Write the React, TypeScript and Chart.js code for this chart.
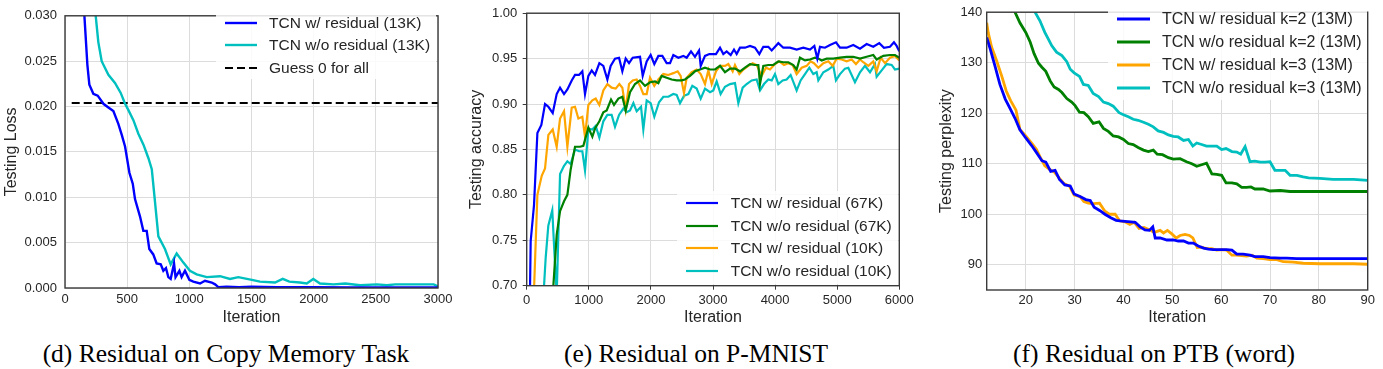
import React, { useEffect, useRef } from "react";
import { Chart, registerables } from "chart.js";

Chart.register(...registerables);

// ---------- Panel (d): Copy Memory ----------
const copyXTicks = [0, 500, 1000, 1500, 2000, 2500, 3000];
const copyYTicks = [0, 0.005, 0.01, 0.015, 0.02, 0.025, 0.03];
const copyResidual: [number, number][] = [
  [140, 0.036], [156, 0.03], [180, 0.0246], [196, 0.0224], [228, 0.0214], [263, 0.0212], [309, 0.0203],
  [349, 0.0199], [389, 0.0195], [429, 0.0181], [456, 0.0169], [483, 0.0156], [518, 0.0127], [545, 0.0115],
  [563, 0.0098], [603, 0.0079], [630, 0.0063], [657, 0.0063], [678, 0.0043], [710, 0.0037], [737, 0.0027],
  [770, 0.0026], [791, 0.0019], [812, 0.0022], [831, 0.0012], [850, 0.001], [877, 0.0027], [889, 0.0012],
  [920, 0.0019], [938, 0.0012], [965, 0.0019], [1000, 0.0009], [1032, 0.0007], [1086, 0.0005], [1126, 0.0008],
  [1180, 0.0006], [1207, 0.0004], [1233, 0.0001], [1300, 0.00015], [1400, 0.0001], [1500, 0.00015],
  [1700, 0.0001], [2000, 0.0001], [2300, 0.00005], [2600, 0.00005], [3000, 0.00005],
];
const copyNoResidual: [number, number][] = [
  [225, 0.034], [247, 0.03], [268, 0.0271], [295, 0.025], [349, 0.0235], [402, 0.0226], [448, 0.0215],
  [483, 0.0203], [510, 0.0196], [550, 0.0185], [590, 0.017], [631, 0.0158], [671, 0.0143], [698, 0.0131],
  [716, 0.0106], [751, 0.0057], [804, 0.0043], [850, 0.0026], [898, 0.0038], [952, 0.0028], [1005, 0.0019],
  [1059, 0.0015], [1140, 0.0012], [1247, 0.0013], [1327, 0.001], [1394, 0.0012], [1503, 0.0009],
  [1568, 0.0007], [1689, 0.0006], [1751, 0.001], [1804, 0.0007], [1889, 0.0006], [1944, 0.0005],
  [1997, 0.001], [2051, 0.0005], [2160, 0.0004], [2254, 0.0005], [2374, 0.0003], [2509, 0.0004],
  [2589, 0.0003], [2656, 0.0004], [2777, 0.0004], [2884, 0.0004], [2965, 0.0004], [3000, 0.0002],
];
const copyGuess: [number, number][] = [[54, 0.0204], [3000, 0.0204]];

// ---------- Panel (e): P-MNIST ----------
const mnistXTicks = [0, 1000, 2000, 3000, 4000, 5000, 6000];
const mnistYTicks = [0.7, 0.75, 0.8, 0.85, 0.9, 0.95, 1.0];
const mnistRes67: [number, number][] = [
  [52, 0.69], [64, 0.749], [118, 0.789], [172, 0.868], [236, 0.877], [295, 0.9], [349, 0.897], [419, 0.89],
  [483, 0.911], [537, 0.918], [601, 0.911], [655, 0.916], [725, 0.926], [778, 0.932], [843, 0.932],
  [896, 0.936], [939, 0.911], [993, 0.931], [1047, 0.937], [1100, 0.932], [1170, 0.945], [1234, 0.942],
  [1299, 0.927], [1352, 0.942], [1422, 0.95], [1487, 0.951], [1540, 0.936], [1594, 0.95], [1648, 0.945],
  [1707, 0.951], [1825, 0.952], [1868, 0.931], [1932, 0.947], [1996, 0.954], [2055, 0.944], [2120, 0.953],
  [2184, 0.953], [2254, 0.945], [2308, 0.945], [2361, 0.954], [2442, 0.951], [2522, 0.953], [2576, 0.951],
  [2646, 0.958], [2710, 0.952], [2775, 0.959], [2802, 0.942], [2871, 0.953], [2941, 0.955], [3048, 0.955],
  [3113, 0.962], [3166, 0.955], [3220, 0.958], [3285, 0.954], [3338, 0.96], [3381, 0.955], [3435, 0.962],
  [3515, 0.962], [3596, 0.964], [3676, 0.962], [3746, 0.955], [3810, 0.963], [3891, 0.963], [3945, 0.959],
  [4052, 0.967], [4132, 0.962], [4240, 0.962], [4347, 0.96], [4454, 0.962], [4562, 0.96], [4632, 0.964],
  [4680, 0.95], [4723, 0.963], [4803, 0.962], [4884, 0.965], [4980, 0.968], [5045, 0.962], [5152, 0.962],
  [5259, 0.965], [5367, 0.961], [5474, 0.966], [5581, 0.963], [5678, 0.967], [5753, 0.962], [5850, 0.963],
  [5914, 0.968], [5957, 0.964], [6000, 0.958],
];
const mnistNoRes67: [number, number][] = [
  [410, 0.68], [483, 0.756], [537, 0.782], [601, 0.793], [655, 0.8], [708, 0.828], [778, 0.853], [859, 0.853],
  [912, 0.854], [993, 0.874], [1057, 0.864], [1100, 0.873], [1170, 0.881], [1234, 0.891], [1288, 0.893],
  [1358, 0.905], [1406, 0.899], [1476, 0.906], [1540, 0.908], [1594, 0.893], [1664, 0.913], [1744, 0.922],
  [1825, 0.926], [1905, 0.92], [1986, 0.924], [2066, 0.925], [2120, 0.923], [2173, 0.931], [2254, 0.929],
  [2334, 0.927], [2415, 0.926], [2496, 0.926], [2549, 0.927], [2630, 0.931], [2710, 0.936], [2791, 0.938],
  [2871, 0.94], [2952, 0.938], [3032, 0.938], [3113, 0.942], [3193, 0.935], [3274, 0.939], [3354, 0.939],
  [3435, 0.936], [3515, 0.94], [3596, 0.944], [3676, 0.943], [3730, 0.943], [3757, 0.922], [3810, 0.942],
  [3891, 0.943], [3971, 0.943], [4052, 0.947], [4132, 0.946], [4213, 0.946], [4293, 0.943], [4347, 0.938],
  [4401, 0.951], [4481, 0.948], [4562, 0.949], [4642, 0.951], [4696, 0.95], [4750, 0.948], [4830, 0.95],
  [4937, 0.95], [5045, 0.951], [5152, 0.952], [5259, 0.952], [5367, 0.95], [5474, 0.952], [5581, 0.954],
  [5635, 0.949], [5743, 0.953], [5850, 0.954], [5930, 0.954], [6000, 0.951],
];
const mnistRes10: [number, number][] = [
  [115, 0.69], [172, 0.8], [242, 0.821], [295, 0.829], [349, 0.866], [419, 0.872], [483, 0.853], [537, 0.884],
  [601, 0.892], [655, 0.853], [725, 0.896], [778, 0.897], [832, 0.884], [896, 0.886], [939, 0.864],
  [993, 0.899], [1057, 0.904], [1111, 0.906], [1170, 0.899], [1234, 0.915], [1299, 0.922], [1368, 0.918],
  [1433, 0.917], [1492, 0.922], [1540, 0.918], [1594, 0.894], [1648, 0.922], [1707, 0.926], [1771, 0.927],
  [1825, 0.92], [1878, 0.911], [1932, 0.911], [1986, 0.929], [2055, 0.92], [2120, 0.927], [2200, 0.933],
  [2281, 0.932], [2361, 0.934], [2431, 0.936], [2479, 0.931], [2533, 0.912], [2576, 0.929], [2657, 0.935],
  [2737, 0.938], [2802, 0.933], [2871, 0.922], [2925, 0.937], [2979, 0.922], [3048, 0.936], [3113, 0.942],
  [3193, 0.942], [3247, 0.944], [3317, 0.936], [3354, 0.943], [3424, 0.933], [3489, 0.938], [3569, 0.942],
  [3639, 0.945], [3703, 0.943], [3784, 0.931], [3853, 0.94], [3918, 0.938], [3998, 0.944], [4068, 0.947],
  [4143, 0.943], [4213, 0.945], [4283, 0.943], [4347, 0.933], [4428, 0.94], [4508, 0.942], [4572, 0.947],
  [4626, 0.945], [4696, 0.94], [4777, 0.945], [4857, 0.947], [4927, 0.942], [4991, 0.95], [5072, 0.949],
  [5152, 0.947], [5233, 0.949], [5302, 0.944], [5367, 0.949], [5420, 0.946], [5501, 0.942], [5581, 0.947],
  [5635, 0.936], [5700, 0.951], [5770, 0.945], [5850, 0.951], [5930, 0.953], [6000, 0.948],
];
const mnistNoRes10: [number, number][] = [
  [262, 0.68], [306, 0.731], [348, 0.766], [412, 0.783], [445, 0.738], [483, 0.69], [537, 0.823], [601, 0.832],
  [655, 0.837], [708, 0.834], [778, 0.85], [843, 0.848], [896, 0.848], [939, 0.827], [993, 0.873],
  [1057, 0.872], [1111, 0.876], [1170, 0.863], [1234, 0.881], [1299, 0.888], [1368, 0.888], [1422, 0.875],
  [1487, 0.888], [1556, 0.895], [1610, 0.891], [1664, 0.893], [1718, 0.901], [1771, 0.892], [1841, 0.897],
  [1878, 0.872], [1932, 0.904], [1996, 0.901], [2055, 0.886], [2131, 0.902], [2200, 0.908], [2281, 0.908],
  [2361, 0.911], [2415, 0.91], [2469, 0.901], [2533, 0.909], [2603, 0.911], [2667, 0.92], [2737, 0.917],
  [2802, 0.906], [2871, 0.917], [2952, 0.913], [3005, 0.915], [3059, 0.925], [3123, 0.911], [3193, 0.919],
  [3274, 0.922], [3354, 0.923], [3408, 0.901], [3478, 0.918], [3542, 0.922], [3623, 0.926], [3703, 0.927],
  [3757, 0.915], [3821, 0.922], [3891, 0.927], [3945, 0.926], [3998, 0.933], [4052, 0.922], [4122, 0.926],
  [4186, 0.927], [4250, 0.932], [4347, 0.915], [4411, 0.926], [4481, 0.933], [4551, 0.94], [4615, 0.933],
  [4669, 0.935], [4696, 0.926], [4777, 0.935], [4857, 0.938], [4937, 0.942], [4980, 0.926], [5045, 0.933],
  [5125, 0.939], [5179, 0.94], [5286, 0.924], [5367, 0.935], [5447, 0.942], [5528, 0.935], [5608, 0.944],
  [5635, 0.93], [5716, 0.937], [5796, 0.944], [5877, 0.943], [5930, 0.938], [6000, 0.939],
];

// ---------- Panel (f): PTB ----------
const ptbXTicks = [20, 30, 40, 50, 60, 70, 80, 90];
const ptbYTicks = [90, 100, 110, 120, 130, 140];
const ptbResK2: [number, number][] = [
  [12, 135.0], [12.7, 132.8], [13.7, 129.3], [14.7, 125.7], [15.8, 122.8], [16.8, 120.9], [17.8, 119.0],
  [18.8, 116.7], [20.0, 115.1], [21.2, 113.6], [22.2, 112.2], [23.3, 110.6], [24.1, 110.3], [25.1, 108.5],
  [26.0, 108.7], [26.9, 106.9], [28.0, 105.8], [29.1, 105.6], [29.9, 104.0], [31.1, 103.5], [32.3, 102.9],
  [33.2, 102.7], [34.0, 101.4], [35.2, 100.7], [36.2, 100.0], [37.4, 99.3], [38.5, 98.8], [39.3, 98.7],
  [40.3, 98.6], [41.5, 98.5], [42.4, 98.4], [43.4, 97.5], [44.4, 96.9], [45.3, 96.8], [46.0, 97.5],
  [46.5, 95.3], [47.5, 95.3], [48.9, 94.9], [50.2, 94.9], [51.2, 94.7], [52.3, 94.7], [53.3, 94.3],
  [54.3, 94.3], [55.3, 93.7], [56.4, 93.3], [57.4, 93.1], [58.4, 93.0], [59.8, 93.0], [61.1, 93.0],
  [62.2, 92.9], [63.2, 92.1], [64.5, 92.1], [65.9, 91.9], [66.9, 91.6], [68.6, 91.6], [70.0, 91.4],
  [72.1, 91.3], [73.4, 91.3], [75.5, 91.2], [77.5, 91.2], [80.2, 91.2], [83.7, 91.2], [87.1, 91.2], [90, 91.2],
];
const ptbNoResK2: [number, number][] = [
  [17, 142], [17.8, 140], [18.8, 137.9], [20.0, 136.0], [20.9, 134.1], [21.7, 131.8], [22.6, 129.9],
  [23.3, 129.1], [24.1, 128.3], [25.0, 126.4], [25.8, 125.2], [26.7, 124.7], [27.4, 124.1], [28.4, 122.9],
  [29.4, 122.2], [30.1, 121.5], [31.0, 120.2], [31.9, 120.1], [32.8, 119.3], [33.8, 118.0], [35.0, 118.3],
  [35.9, 117.0], [36.9, 116.4], [37.9, 115.5], [39.0, 115.3], [40.0, 114.8], [41.0, 114.0], [42.0, 113.8],
  [43.0, 113.2], [44.1, 112.7], [45.1, 112.4], [46.1, 112.7], [46.9, 111.9], [48.0, 111.8], [49.2, 111.2],
  [50.2, 110.9], [51.6, 111.0], [52.9, 110.4], [54.0, 110.0], [55.0, 109.5], [56.0, 109.8], [57.0, 110.1],
  [58.1, 108.0], [59.1, 107.9], [60.1, 107.7], [61.0, 106.2], [62.2, 106.2], [63.2, 106.0], [64.2, 105.3],
  [65.2, 105.3], [66.1, 105.4], [66.9, 105.0], [68.6, 105.0], [70.0, 104.6], [72.1, 104.7], [74.1, 104.5],
  [76.8, 104.5], [80.2, 104.5], [90, 104.5],
];
const ptbResK3: [number, number][] = [
  [12, 137.9], [12.3, 136.0], [13.0, 133.1], [14.0, 130.5], [15.1, 127.3], [16.0, 124.4], [16.9, 122.5],
  [18.0, 120.6], [18.8, 116.8], [20.0, 115.5], [21.2, 114.1], [22.2, 112.8], [23.0, 111.2], [23.9, 109.6],
  [25.0, 108.8], [25.9, 108.3], [26.9, 107.1], [27.8, 106.1], [28.9, 105.6], [29.9, 103.8], [31.1, 103.5],
  [31.9, 102.5], [32.8, 102.2], [33.8, 102.1], [35.1, 102.2], [36.2, 100.6], [37.1, 100.0], [38.3, 100.0],
  [39.2, 98.7], [40.3, 98.5], [41.3, 98.0], [42.2, 98.4], [43.2, 97.2], [44.2, 97.4], [45.4, 96.9],
  [46.3, 96.4], [47.5, 96.8], [48.2, 96.3], [49.0, 96.8], [49.9, 96.1], [50.8, 95.3], [51.6, 95.8],
  [52.6, 96.0], [53.5, 95.8], [54.2, 95.3], [55.1, 93.4], [56.0, 93.5], [57.0, 93.2], [58.1, 93.2],
  [59.1, 92.9], [60.1, 93.0], [61.1, 92.9], [62.2, 91.9], [63.2, 91.9], [64.2, 91.8], [65.2, 91.7],
  [66.3, 91.9], [67.3, 91.3], [68.6, 91.2], [70.0, 91.0], [71.4, 91.0], [72.7, 90.6], [74.8, 90.5],
  [76.8, 90.3], [80.2, 90.2], [83.7, 90.2], [87.1, 90.2], [90, 90.1],
];
const ptbNoResK3: [number, number][] = [
  [21.2, 142], [21.9, 140], [22.9, 138.3], [23.9, 136.0], [24.6, 134.7], [25.3, 133.4], [26.3, 132.1],
  [27.4, 131.4], [28.4, 130.2], [29.1, 128.7], [29.9, 128.0], [31.0, 127.3], [31.8, 125.7], [32.8, 125.5],
  [33.8, 123.9], [34.9, 123.3], [35.9, 122.2], [36.9, 121.9], [37.9, 121.4], [39.1, 120.1], [40.0, 119.7],
  [41.0, 119.3], [42.0, 118.8], [43.0, 118.6], [44.1, 118.2], [45.1, 117.8], [46.1, 117.3], [47.1, 116.5],
  [48.2, 116.2], [49.2, 115.7], [50.2, 115.4], [51.2, 115.3], [52.3, 114.6], [53.3, 114.8], [54.2, 113.5],
  [55.0, 114.1], [56.0, 113.8], [57.0, 113.5], [58.1, 113.5], [59.1, 113.5], [60.1, 112.8], [61.0, 113.0],
  [62.2, 112.4], [63.2, 112.3], [64.0, 111.9], [64.9, 113.4], [65.9, 110.4], [66.9, 110.5], [68.0, 110.3],
  [69.0, 110.3], [70.0, 110.4], [71.0, 108.7], [72.1, 108.7], [73.1, 108.7], [74.1, 107.7], [75.5, 107.7],
  [76.8, 107.4], [77.9, 107.2], [80.2, 107.1], [82.9, 106.9], [85.0, 106.9], [87.1, 106.9], [90, 106.7],
];

const captions = [
  "(d) Residual on Copy Memory Task",
  "(e) Residual on P-MNIST",
  "(f) Residual on PTB (word)",
];

// ---------- styling ----------
const SANS = "'Liberation Sans', Arial, 'DejaVu Sans', sans-serif";
const TEXT = "#262626";
const GRID = "#dcdcdc";
const BLUE = "#0000ff";
const CYAN = "#00bfbf";
const GREEN = "#008000";
const ORANGE = "#ffa500";

type Series = { label: string; pts: [number, number][]; color: string; dash?: number[]; width: number };
type LegendSpec = { box: [number, number, number, number]; x0: number; x1: number; tx: number; rows: number[]; size: number };
type PanelSpec = {
  left: number; width: number; height: number;
  series: Series[];
  xMin: number; xMax: number; xTicks: number[]; xFmt: (v: number) => string;
  yMin: number; yMax: number; yTicks: number[]; yFmt: (v: number) => string;
  yTitle: string;
  padTop: number; padRight: number; yAxisW: number; xAxisH: number;
  yTitlePad: number; xTitlePad: number; yTickPad: number; xTickPad: number; tickLen: number;
  legend: LegendSpec;
};

function makeFramePlugin(spec: PanelSpec) {
  return {
    id: "frameLegend",
    afterDatasetsDraw(chart: any) {
      const { ctx, chartArea: a } = chart;
      ctx.save();
      ctx.strokeStyle = "#3a3a3a";
      ctx.lineWidth = 1.4;
      ctx.strokeRect(a.left, a.top, a.right - a.left, a.bottom - a.top);
      const lg = spec.legend;
      ctx.fillStyle = "rgba(255,255,255,0.85)";
      ctx.fillRect(lg.box[0], lg.box[1], lg.box[2], lg.box[3]);
      ctx.font = `${lg.size}px ${SANS}`;
      ctx.textBaseline = "middle";
      ctx.textAlign = "left";
      spec.series.forEach((s, i) => {
        const y = lg.rows[i];
        ctx.strokeStyle = s.color;
        ctx.lineWidth = s.width;
        ctx.setLineDash(s.dash || []);
        ctx.beginPath();
        ctx.moveTo(lg.x0, y);
        ctx.lineTo(lg.x1, y);
        ctx.stroke();
        ctx.setLineDash([]);
        ctx.fillStyle = TEXT;
        ctx.fillText(s.label, lg.tx, y + 1);
      });
      ctx.restore();
    },
  };
}

function Panel({ spec }: { spec: PanelSpec }) {
  const ref = useRef<HTMLCanvasElement | null>(null);
  useEffect(() => {
    if (!ref.current) return;
    const chart = new Chart(ref.current, {
      type: "line",
      data: {
        datasets: spec.series.map((s) => ({
          label: s.label,
          data: s.pts.map(([x, y]) => ({ x, y })),
          borderColor: s.color,
          backgroundColor: s.color,
          borderWidth: s.width,
          borderDash: s.dash || [],
          pointRadius: 0,
          tension: 0,
          fill: false,
        })),
      },
      options: {
        animation: false,
        responsive: false,
        maintainAspectRatio: false,
        events: [],
        layout: { padding: { top: spec.padTop, right: spec.padRight, left: 0, bottom: 0 } },
        plugins: { legend: { display: false }, tooltip: { enabled: false }, title: { display: false } },
        scales: {
          x: {
            type: "linear",
            min: spec.xMin,
            max: spec.xMax,
            afterBuildTicks: (s: any) => { s.ticks = spec.xTicks.map((v) => ({ value: v })); },
            afterFit: (s: any) => { s.height = spec.xAxisH; },
            ticks: {
              callback: (v: any) => spec.xFmt(Number(v)),
              color: TEXT, font: { family: SANS, size: 13 }, padding: spec.xTickPad,
              maxRotation: 0, autoSkip: false,
            },
            grid: { color: GRID, lineWidth: 1, drawTicks: spec.tickLen > 0, tickLength: spec.tickLen, tickColor: "#3a3a3a" },
            border: { display: false },
            title: { display: true, text: "Iteration", color: TEXT, font: { family: SANS, size: 16 }, padding: { top: 0, bottom: spec.xTitlePad } },
          },
          y: {
            type: "linear",
            min: spec.yMin,
            max: spec.yMax,
            afterBuildTicks: (s: any) => { s.ticks = spec.yTicks.map((v) => ({ value: v })); },
            afterFit: (s: any) => { s.width = spec.yAxisW; },
            ticks: {
              callback: (v: any) => spec.yFmt(Number(v)),
              color: TEXT, font: { family: SANS, size: 13 }, padding: spec.yTickPad, autoSkip: false,
            },
            grid: { color: GRID, lineWidth: 1, drawTicks: spec.tickLen > 0, tickLength: spec.tickLen, tickColor: "#3a3a3a" },
            border: { display: false },
            title: { display: true, text: spec.yTitle, color: TEXT, font: { family: SANS, size: 16 }, padding: { top: spec.yTitlePad, bottom: 0 } },
          },
        },
      },
      plugins: [makeFramePlugin(spec)],
    } as any);
    return () => chart.destroy();
  }, [spec]);
  return (
    <canvas
      ref={ref}
      width={spec.width}
      height={spec.height}
      style={{ position: "absolute", left: spec.left, top: 0, width: spec.width, height: spec.height }}
    />
  );
}

const panels: PanelSpec[] = [
  {
    left: 0, width: 460, height: 330,
    series: [
      { label: "TCN w/ residual (13K)", pts: copyResidual, color: BLUE, width: 2.4 },
      { label: "TCN w/o residual (13K)", pts: copyNoResidual, color: CYAN, width: 2.4 },
      { label: "Guess 0 for all", pts: copyGuess, color: "#000000", dash: [8, 4], width: 2 },
    ],
    xMin: 0, xMax: 3000, xTicks: copyXTicks, xFmt: (v) => String(v),
    yMin: 0, yMax: 0.03, yTicks: copyYTicks, yFmt: (v) => v.toFixed(3),
    yTitle: "Testing Loss",
    padTop: 10, padRight: 22, yAxisW: 65, xAxisH: 42,
    yTitlePad: 2.4, xTitlePad: 2.4, yTickPad: 8, xTickPad: 4, tickLen: 0,
    legend: { box: [216, 11, 220, 68], x0: 225, x1: 257, tx: 269, rows: [23, 45, 68], size: 15.5 },
  },
  {
    left: 460, width: 460, height: 330,
    series: [
      { label: "TCN w/ residual (67K)", pts: mnistRes67, color: BLUE, width: 2.2 },
      { label: "TCN w/o residual (67K)", pts: mnistNoRes67, color: GREEN, width: 2.2 },
      { label: "TCN w/ residual (10K)", pts: mnistRes10, color: ORANGE, width: 2.2 },
      { label: "TCN w/o residual (10K)", pts: mnistNoRes10, color: CYAN, width: 2.2 },
    ],
    xMin: 0, xMax: 6000, xTicks: mnistXTicks, xFmt: (v) => String(v),
    yMin: 0.7, yMax: 1.0, yTicks: mnistYTicks, yFmt: (v) => v.toFixed(2),
    yTitle: "Testing accuracy",
    padTop: 7.7, padRight: 20.7, yAxisW: 66.7, xAxisH: 44.3,
    yTitlePad: 7.4, xTitlePad: 2.4, yTickPad: 5.4, xTickPad: 2.5, tickLen: 4,
    legend: { box: [217, 191, 221, 93], x0: 226, x1: 258, tx: 270.7, rows: [203, 226, 248, 271], size: 15.5 },
  },
  {
    left: 920, width: 463, height: 330,
    series: [
      { label: "TCN w/ residual k=2 (13M)", pts: ptbResK2, color: BLUE, width: 2.8 },
      { label: "TCN w/o residual k=2 (13M)", pts: ptbNoResK2, color: GREEN, width: 2.8 },
      { label: "TCN w/ residual k=3 (13M)", pts: ptbResK3, color: ORANGE, width: 2.8 },
      { label: "TCN w/o residual k=3 (13M)", pts: ptbNoResK3, color: CYAN, width: 2.8 },
    ],
    xMin: 12, xMax: 90, xTicks: ptbXTicks, xFmt: (v) => String(v),
    yMin: 85, yMax: 140, yTicks: ptbYTicks, yFmt: (v) => String(v),
    yTitle: "Testing perplexity",
    padTop: 6, padRight: 15.3, yAxisW: 66.7, xAxisH: 40,
    yTitlePad: 17.4, xTitlePad: 2.4, yTickPad: 4.4, xTickPad: 2.2, tickLen: 0,
    legend: { box: [188, 7, 259, 93], x0: 197, x1: 230, tx: 242, rows: [19, 42, 65, 88], size: 16 },
  },
];

const captionCenters = [226, 696, 1154];

export default function App() {
  return (
    <div style={{ position: "absolute", left: 0, top: 0, width: 1383, height: 369, background: "#ffffff", overflow: "hidden" }}>
      {panels.map((p, i) => (
        <Panel key={i} spec={p} />
      ))}
      {captions.map((c, i) => (
        <div
          key={c}
          style={{
            position: "absolute",
            left: captionCenters[i] - 250,
            width: 500,
            top: 341,
            textAlign: "center",
            whiteSpace: "nowrap",
            fontFamily: "'Liberation Serif', 'Times New Roman', serif",
            fontSize: 25.5,
            lineHeight: "25px",
            color: "#000",
          }}
        >
          {c}
        </div>
      ))}
    </div>
  );
}
